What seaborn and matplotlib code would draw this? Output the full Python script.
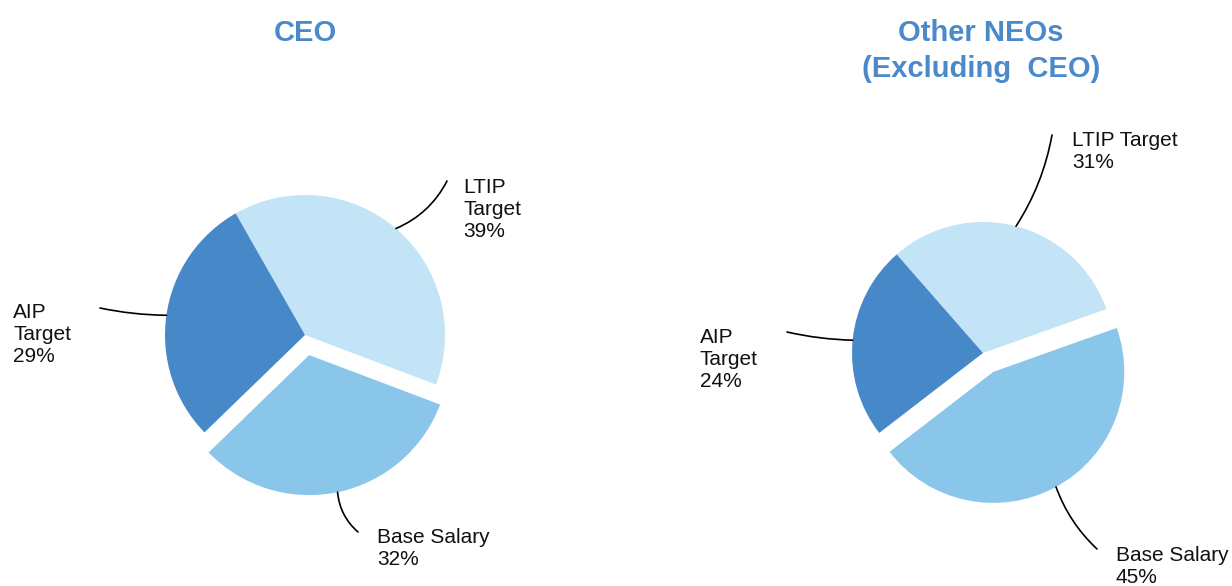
import matplotlib.pyplot as plt
import numpy as np
import seaborn as sns

categories = ["LTIP Target", "Base Salary", "AIP Target"]
ceo_pct = [39, 32, 29]
neo_pct = [31, 45, 24]
ceo_labels = ["LTIP\nTarget\n39%", "Base Salary\n32%", "AIP\nTarget\n29%"]
neo_labels = ["LTIP Target\n31%", "Base Salary\n45%", "AIP\nTarget\n24%"]
colors = ["#C2E4F6", "#8AC6EA", "#4788C8"]

sns.set_theme(style="white")
plt.rcParams["font.family"] = ["Liberation Sans", "DejaVu Sans"]

W, H = 1232, 586
fig = plt.figure(figsize=(W / 100, H / 100), dpi=100)
ax = fig.add_axes([0, 0, 1, 1])
ax.set_xlim(0, W)
ax.set_ylim(0, H)
ax.axis("off")

title_color = "#4A89CA"


def draw_pie(values, labels, center, radius, start, explode, title, title_xy,
             text_pos, line_end, rads):
    # explode in matplotlib is an absolute offset in data units (pixels here)
    wedges, _ = ax.pie(values, colors=colors, startangle=start, counterclock=False,
                       explode=[0, explode, 0], center=(center[0], H - center[1]),
                       radius=radius, frame=True,
                       wedgeprops=dict(linewidth=0))
    for w, lab, tp, le, rad in zip(wedges, labels, text_pos, line_end, rads):
        mid = np.deg2rad((w.theta1 + w.theta2) / 2)
        cx, cy = w.center
        edge = (cx + w.r * np.cos(mid), cy + w.r * np.sin(mid))
        ax.annotate("", xy=edge, xytext=(le[0], H - le[1]),
                    arrowprops=dict(arrowstyle="-", color="black", lw=1.2,
                                    shrinkA=0, shrinkB=0,
                                    connectionstyle=f"arc3,rad={rad}"))
        ax.text(tp[0], H - tp[1], lab, ha="left", va="top", fontsize=15,
                linespacing=1.2, color="#111111")
    ax.text(title_xy[0], H - title_xy[1], title, ha="center", va="top",
            fontsize=21, fontweight="bold", color=title_color, linespacing=1.38)


draw_pie(ceo_pct, ceo_labels, (305, 335), 140, 119.7, 20.5, "CEO", (305, 19),
         [(463, 178), (377, 528), (13, 303)],
         [(447, 181), (358, 532), (100, 308)],
         [-0.18, -0.2, 0.05])
draw_pie(neo_pct, neo_labels, (983, 353), 131, 131.2, 21.5,
         "Other NEOs\n(Excluding  CEO)", (981, 19),
         [(1072, 131), (1116, 546), (700, 328)],
         [(1052, 135), (1097, 549), (787, 332)],
         [-0.1, -0.12, 0.05])

ax.set_xlim(0, W)
ax.set_ylim(0, H)
ax.set_aspect("auto")

fig.savefig("out.png", dpi=100)
